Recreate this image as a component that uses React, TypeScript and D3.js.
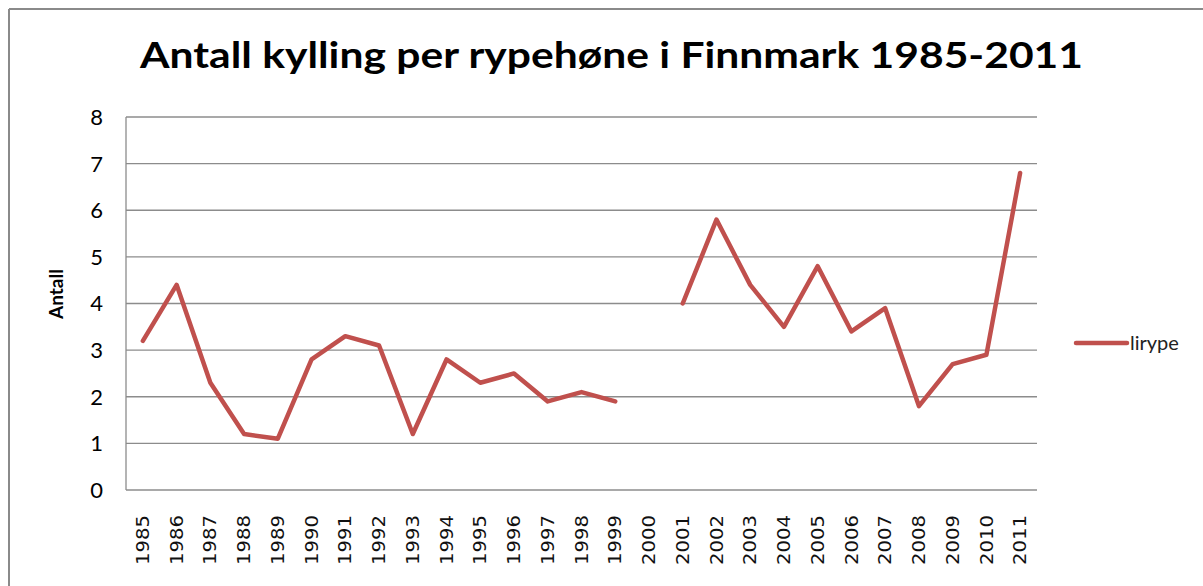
import React from 'react';
import { scaleBand, scaleLinear, line } from 'd3';

const title = 'Antall kylling per rypehøne i Finnmark 1985-2011';
const yTitle = 'Antall';
const seriesName = 'lirype';
const years = [
  '1985', '1986', '1987', '1988', '1989', '1990', '1991', '1992', '1993',
  '1994', '1995', '1996', '1997', '1998', '1999', '2000', '2001', '2002',
  '2003', '2004', '2005', '2006', '2007', '2008', '2009', '2010', '2011',
];
const lirype: (number | null)[] = [
  3.2, 4.4, 2.3, 1.2, 1.1, 2.8, 3.3, 3.1, 1.2,
  2.8, 2.3, 2.5, 1.9, 2.1, 1.9, null, 4.0, 5.8,
  4.4, 3.5, 4.8, 3.4, 3.9, 1.8, 2.7, 2.9, 6.8,
];
const yTicks = [0, 1, 2, 3, 4, 5, 6, 7, 8];

const W = 1203;
const H = 586;
const plot = { left: 126, right: 1037, top: 117, bottom: 490 };
const red = '#C0504D';
const grid = '#8c8c8c';
const bodyFont = 'Lato, "Open Sans", sans-serif';

const App = () => {
  const x = scaleBand()
    .domain(years)
    .range([plot.left, plot.right]);
  const y = scaleLinear()
    .domain([0, 8])
    .range([plot.bottom, plot.top]);

  const pts = years.map((yr, i) => ({ yr, v: lirype[i] }));
  const path = line<{ yr: string; v: number | null }>()
    .defined(d => d.v !== null)
    .x(d => (x(d.yr) as number) + x.bandwidth() / 2)
    .y(d => y(d.v as number))(pts);

  return (
    <svg
      width={W}
      height={H}
      style={{ position: 'absolute', left: 0, top: 0, background: '#fff' }}
    >
      {/* chart frame, only top and left edges show */}
      <line x1={9} x2={W} y1={9} y2={9} stroke="#8a8a8a" strokeWidth={2} />
      <line x1={9} x2={9} y1={9} y2={H} stroke="#8a8a8a" strokeWidth={2} />

      <text
        x={611.5}
        y={68}
        textAnchor="middle"
        fontFamily={bodyFont}
        fontWeight="bold"
        fontSize={37}
        textLength={943}
        lengthAdjust="spacingAndGlyphs"
        fill="#000"
      >
        {title}
      </text>

      {/* gridlines */}
      {yTicks.map(t => (
        <line
          key={t}
          x1={plot.left}
          x2={plot.right}
          y1={y(t)}
          y2={y(t)}
          stroke={grid}
          strokeWidth={1.3}
        />
      ))}
      <line
        x1={plot.left}
        x2={plot.left}
        y1={plot.top}
        y2={plot.bottom}
        stroke={grid}
        strokeWidth={1.3}
      />

      {yTicks.map(t => (
        <text
          key={t}
          x={103}
          y={y(t)}
          dy="0.36em"
          textAnchor="end"
          fontFamily={bodyFont}
          fontSize={22}
          fill="#000"
        >
          {t}
        </text>
      ))}

      <text
        transform={`translate(63,294) rotate(-90)`}
        textAnchor="middle"
        fontFamily={bodyFont}
        fontWeight="bold"
        fontSize={19}
        fill="#000"
      >
        {yTitle}
      </text>

      {years.map(yr => {
        const cx = (x(yr) as number) + x.bandwidth() / 2;
        return (
          <text
            key={yr}
            transform={`translate(${cx},515) rotate(-90)`}
            dy="0.36em"
            textAnchor="end"
            fontFamily='"DejaVu Sans", sans-serif'
            fontSize={17}
            textLength={50}
            lengthAdjust="spacingAndGlyphs"
            fill="#111"
          >
            {yr}
          </text>
        );
      })}

      <path
        d={path || ''}
        fill="none"
        stroke={red}
        strokeWidth={4.5}
        strokeLinejoin="round"
        strokeLinecap="round"
      />

      {/* legend */}
      <line
        x1={1076}
        x2={1127}
        y1={343}
        y2={343}
        stroke={red}
        strokeWidth={4.5}
        strokeLinecap="round"
      />
      <text
        x={1130}
        y={350}
        fontFamily={bodyFont}
        fontSize={20}
        fill="#222"
      >
        {seriesName}
      </text>
    </svg>
  );
};

export default App;
